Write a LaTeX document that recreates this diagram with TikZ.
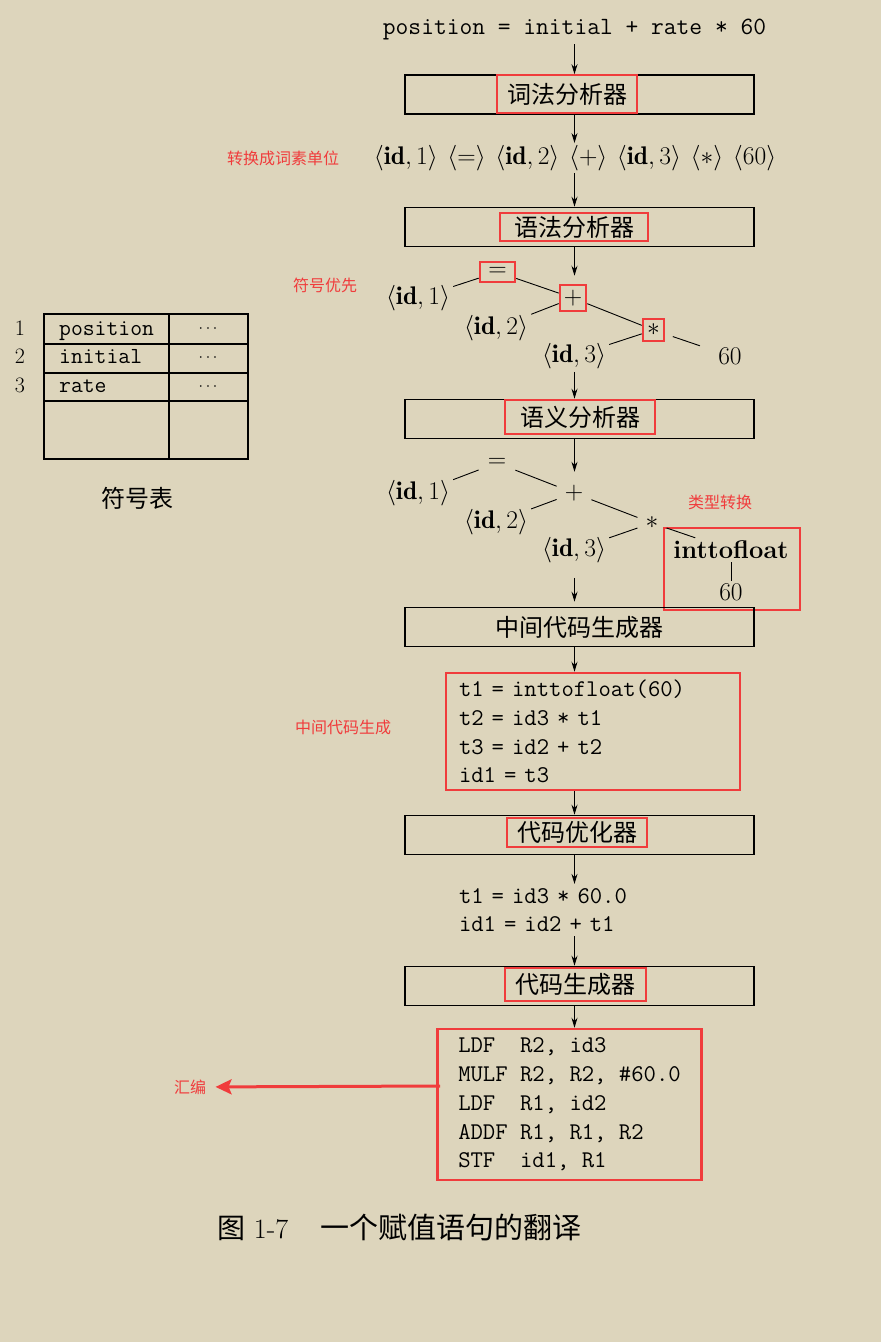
\RequirePackage{fix-cm}
\documentclass[tikz,border=0pt]{standalone}
\usepackage{fontspec}
\newfontfamily\cjk{Noto Sans CJK SC}
\usetikzlibrary{arrows.meta}

\definecolor{paper}{HTML}{DDD5BC}
\definecolor{hlred}{HTML}{F03C3C}

\newcommand{\idn}[1]{\langle\mathbf{id},#1\rangle}

\tikzset{
  flow/.style={draw,line width=0.9pt,-{Stealth[length=10pt,width=6pt]}},
  stagebox/.style={draw,line width=1.6pt,minimum width=349pt,minimum height=39pt,inner sep=0pt,font=\cjk\fontsize{24}{28}\selectfont},
  hlbox/.style={draw=hlred,line width=2.5pt,inner sep=0pt,font=\cjk\fontsize{24}{28}\selectfont},
  codetext/.style={font=\ttfamily\fontsize{24}{28.7}\selectfont,align=left},
  mathtext/.style={font=\fontsize{25.5}{30}\selectfont},
  treenode/.style={mathtext,inner sep=3pt},
  opbox/.style={mathtext,draw=hlred,line width=2.5pt,inner sep=0pt},
  treeline/.style={draw,line width=0.9pt},
  remark/.style={text=hlred,font=\cjk\fontsize{16}{19}\selectfont},
  tablerule/.style={line width=1.1pt},
  tabletext/.style={font=\ttfamily\fontsize{23}{28}\selectfont,anchor=base west,inner sep=0pt},
  rownum/.style={font=\fontsize{22}{26}\selectfont,anchor=base,inner sep=0pt},
}

\begin{document}
\begin{tikzpicture}[x=1pt,y=-1pt]
  \fill[paper] (0,0) rectangle (881,1342);
  \useasboundingbox (0,0) rectangle (881,1342);

  % phases
  \node[codetext,font=\ttfamily\fontsize{24.8}{29}\selectfont] (src) at (574.5,30) {position = initial + rate * 60};
  \node[stagebox] (lexbox) at (579.5,94.5) {};
  \node[hlbox,minimum width=140pt,minimum height=38pt] (lex) at (567,94) {词法分析器};
  \node[mathtext,inner sep=2pt] (tokens) at (575,158) {$\idn{1}$\hspace{2pt} $\langle=\rangle$\hspace{2pt} $\idn{2}$\hspace{2pt} $\langle+\rangle$\hspace{2pt} $\idn{3}$\hspace{2pt} $\langle\ast\rangle$\hspace{2pt} $\langle60\rangle$};
  \node[stagebox] (synbox) at (579.5,227) {};
  \node[hlbox,minimum width=148pt,minimum height=28pt] (syn) at (574,227) {语法分析器};

  % syntax tree
  \node[opbox,minimum width=35pt,minimum height=20pt] (eqA) at (497.5,272) {$=$};
  \node[opbox,minimum width=26pt,minimum height=26pt] (plusA) at (573,298) {$+$};
  \node[opbox,minimum width=21pt,minimum height=22pt] (starA) at (653.5,330) {$\ast$};
  \node[treenode] (idA1) at (418,298) {$\idn{1}$};
  \node[treenode] (idA2) at (496,328) {$\idn{2}$};
  \node[treenode] (idA3) at (574,356) {$\idn{3}$};
  \node[treenode] (sixtyA) at (730,356) {$60$};
  \path (eqA) edge[treeline] (idA1)
        (eqA) edge[treeline] (plusA)
        (plusA) edge[treeline] (idA2)
        (plusA) edge[treeline] (starA)
        (starA) edge[treeline] (idA3)
        (starA) edge[treeline,shorten <=8pt,shorten >=16pt] (sixtyA);

  \node[stagebox] (sembox) at (579.5,419) {};
  \node[hlbox,minimum width=150pt,minimum height=34pt] (sem) at (580,417) {语义分析器};

  % checked tree
  \node[treenode,inner xsep=9pt] (eqB) at (497,463) {$=$};
  \node[treenode,inner xsep=8pt] (plusB) at (574,493) {$+$};
  \node[treenode,inner xsep=8pt] (starB) at (652,523) {$\ast$};
  \node[treenode] (idB1) at (418,493) {$\idn{1}$};
  \node[treenode] (idB2) at (496,522) {$\idn{2}$};
  \node[treenode] (idB3) at (574,550) {$\idn{3}$};
  \node[treenode,font=\bfseries\fontsize{25.5}{30}\selectfont] (itof) at (731,550) {inttofloat};
  \node[treenode] (sixtyB) at (731,592) {$60$};
  \node[draw=hlred,line width=2.5pt,minimum width=136pt,minimum height=82pt] (castbox) at (732,569) {};
  \path (eqB) edge[treeline] (idB1)
        (eqB) edge[treeline] (plusB)
        (plusB) edge[treeline] (idB2)
        (plusB) edge[treeline] (starB)
        (starB) edge[treeline] (idB3)
        (starB) edge[treeline] (itof)
        (itof) edge[treeline] (sixtyB);

  \node[stagebox] (irbox) at (579.5,627) {中间代码生成器};
  \node[codetext,draw=hlred,line width=2.5pt,text width=268pt,inner xsep=13pt,minimum height=117pt] (ircode) at (593,731.5)
    {t1 = inttofloat(60)\\t2 = id3 * t1\\t3 = id2 + t2\\id1 = t3};

  \node[stagebox] (optbox) at (579.5,835) {};
  \node[hlbox,minimum width=140pt,minimum height=29pt] (opt) at (577,832.5) {代码优化器};
  \node[codetext,text width=230pt,inner xsep=0pt,inner ysep=4pt] (optcode) at (574,910)
    {t1 = id3 * 60.0\\id1 = id2 + t1};

  \node[stagebox] (cgbox) at (579.5,986) {};
  \node[hlbox,minimum width=141pt,minimum height=33pt] (cg) at (575.5,984.5) {代码生成器};
  \node[codetext,draw=hlred,line width=2.5pt,inner xsep=21pt,minimum height=151pt] (asm) at (569.5,1104.5)
    {LDF\ \ R2, id3\\MULF R2, R2, \#60.0\\LDF\ \ R1, id2\\ADDF R1, R1, R2\\STF\ \ id1, R1};

  % flow down the column
  \path (src) edge[flow] (src |- lexbox.north)
        (lexbox.south -| src) edge[flow] (tokens.north -| src)
        (tokens.south -| src) edge[flow] (synbox.north -| src)
        (synbox.south -| src) edge[flow,shorten >=8pt] (plusA.north -| src)
        (idA3.south -| src) edge[flow] (sembox.north -| src)
        (sembox.south -| src) edge[flow,shorten >=10pt] (plusB.north -| src)
        (idB3.south -| src) edge[flow,shorten <=12pt,shorten >=5pt] (irbox.north -| src)
        (irbox.south -| src) edge[flow] (ircode.north -| src)
        (ircode.south -| src) edge[flow] (optbox.north -| src)
        (optbox.south -| src) edge[flow] (optcode.north -| src)
        (optcode.south -| src) edge[flow] (cgbox.north -| src)
        (cgbox.south -| src) edge[flow] (asm.north -| src);

  % notes
  \node[remark] (lexnote) at (283,158) {转换成词素单位};
  \node[remark] (prionote) at (325,285) {符号优先};
  \node[remark] (castnote) at (720,502) {类型转换};
  \node[remark] (irnote) at (343,727) {中间代码生成};
  \node[remark] (asmnote) at (190,1087) {汇编};
  \coordinate (asmtap) at (440,1086);
  \path (asmtap) edge[draw=hlred,line width=3pt,-{Stealth[length=16pt,width=15pt,inset=3pt]},shorten >=6pt] (asmnote);

  % symbol table
  \draw[tablerule] (44,314) rectangle (248,459);
  \draw[tablerule] (44,344) -- (248,344) (44,373) -- (248,373) (44,401) -- (248,401) (169,314) -- (169,459);
  \node[rownum] (rowA) at (20,335) {1};
  \node[rownum] (rowB) at (20,363) {2};
  \node[rownum] (rowC) at (20,392) {3};
  \node[tabletext] (symA) at (59,335) {position};
  \node[tabletext] (symB) at (59,363) {initial};
  \node[tabletext] (symC) at (59,392) {rate};
  \node[font=\fontsize{16}{19}\selectfont] (dotA) at (208,329) {$\cdots$};
  \node[font=\fontsize{16}{19}\selectfont] (dotB) at (208,358) {$\cdots$};
  \node[font=\fontsize{16}{19}\selectfont] (dotC) at (208,387) {$\cdots$};
  \node[font=\cjk\fontsize{24}{28}\selectfont] (symcap) at (137,498) {符号表};

  \node[anchor=west,font=\fontsize{28}{32}\selectfont] (caption) at (214,1227) {{\cjk 图} 1-7\hspace{32pt}{\cjk\fontsize{29}{32}\selectfont 一个赋值语句的翻译}};

\end{tikzpicture}
\end{document}
